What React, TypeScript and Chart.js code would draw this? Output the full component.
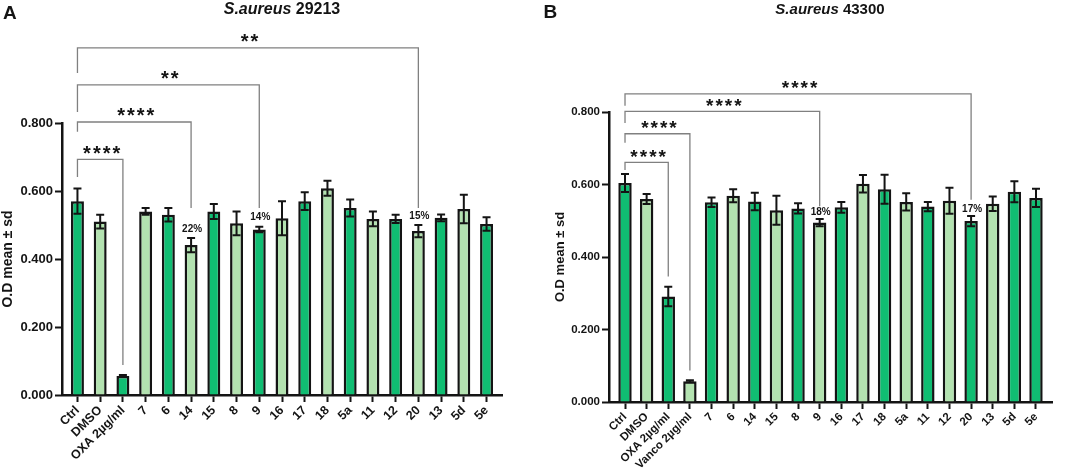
import React, { useEffect, useRef } from 'react';
import { Chart, registerables } from 'chart.js';

Chart.register(...registerables);

const FONT = '"Liberation Sans", Arial, Helvetica, sans-serif';

// ---------- Panel A data ----------
const leftCategories = ['Ctrl', 'DMSO', 'OXA 2µg/ml', '7', '6', '14', '15', '8', '9', '16', '17', '18', '5a', '11', '12', '20', '13', '5d', '5e'];
const leftMeans = [0.570, 0.510, 0.056, 0.540, 0.530, 0.441, 0.540, 0.505, 0.487, 0.520, 0.570, 0.608, 0.550, 0.518, 0.518, 0.482, 0.521, 0.547, 0.503];
const leftSd = [0.037, 0.020, 0.003, 0.010, 0.020, 0.021, 0.022, 0.035, 0.008, 0.050, 0.026, 0.022, 0.025, 0.022, 0.012, 0.018, 0.010, 0.042, 0.020];
// significance brackets: from/to category index, level values in data units
const leftBrackets = [
  { from: 0, to: 2, level: 0.693, leftEnd: 0.641, rightEnd: 0.088, label: '****' },
  { from: 0, to: 5, level: 0.803, leftEnd: 0.774, rightEnd: 0.550, label: '****' },
  { from: 0, to: 8, level: 0.912, leftEnd: 0.832, rightEnd: 0.550, label: '**' },
  { from: 0, to: 15, level: 1.021, leftEnd: 0.947, rightEnd: 0.550, label: '**' },
];
const leftPercents = [
  { index: 5, text: '22%' },
  { index: 8, text: '14%' },
  { index: 15, text: '15%' },
];

// ---------- Panel B data ----------
const rightCategories = ['Ctrl', 'DMSO', 'OXA 2µg/ml', 'Vanco 2µg/ml', '7', '6', '14', '15', '8', '9', '16', '17', '18', '5a', '11', '12', '20', '13', '5d', '5e'];
const rightMeans = [0.604, 0.560, 0.291, 0.057, 0.551, 0.569, 0.553, 0.529, 0.534, 0.495, 0.537, 0.602, 0.587, 0.552, 0.539, 0.555, 0.499, 0.547, 0.580, 0.563];
const rightSd = [0.025, 0.014, 0.027, 0.003, 0.013, 0.018, 0.024, 0.040, 0.014, 0.010, 0.015, 0.024, 0.040, 0.024, 0.013, 0.036, 0.014, 0.020, 0.029, 0.025];
const rightBrackets = [
  { from: 0, to: 2, level: 0.661, leftEnd: 0.640, rightEnd: 0.346, label: '****' },
  { from: 0, to: 3, level: 0.740, leftEnd: 0.715, rightEnd: 0.087, label: '****' },
  { from: 0, to: 9, level: 0.802, leftEnd: 0.770, rightEnd: 0.540, label: '****' },
  { from: 0, to: 16, level: 0.850, leftEnd: 0.817, rightEnd: 0.558, label: '****' },
];
const rightPercents = [
  { index: 9, text: '18%' },
  { index: 16, text: '17%' },
];

const yTickValues = [0, 0.2, 0.4, 0.6, 0.8];

// ---------- styles ----------
const DARK = '#10bd72';
const LIGHT = '#b3e2b0';
const INK = '#141414';
const LEFT_COLORS = leftCategories.map((_, i) => (i % 2 === 0 ? DARK : LIGHT));
const RIGHT_COLORS = rightCategories.map((_, i) => (i === rightCategories.length - 1 ? DARK : i % 2 === 0 ? DARK : LIGHT));

type Bracket = { from: number; to: number; level: number; leftEnd: number; rightEnd: number; label: string };
type Panel = {
  categories: string[];
  means: number[];
  sd: number[];
  colors: string[];
  brackets: Bracket[];
  percents: { index: number; text: string }[];
  xMin: number;
  xMax: number;
  padTop: number;
  padRight: number;
  yWidth: number;
  xHeight: number;
  barPct: number;
  yTickFont: number;
  xTickFont: number;
  yTitleFont: number;
  yTitlePad: number;
  pctGap: number;
  starFont: number;
};

function annotatePlugin(p: Panel) {
  return {
    id: 'annotate',
    afterDatasetsDraw(chart: any) {
      const ctx = chart.ctx as CanvasRenderingContext2D;
      const xs = chart.scales.x;
      const ys = chart.scales.y;
      ctx.save();
      // error bars
      ctx.strokeStyle = INK;
      ctx.lineWidth = 2;
      p.means.forEach((m, i) => {
        const x = xs.getPixelForValue(i);
        const yt = ys.getPixelForValue(m + p.sd[i]);
        const yb = ys.getPixelForValue(m - p.sd[i]);
        ctx.beginPath();
        ctx.moveTo(x, yt);
        ctx.lineTo(x, yb);
        ctx.moveTo(x - 4, yt);
        ctx.lineTo(x + 4, yt);
        ctx.moveTo(x - 4, yb);
        ctx.lineTo(x + 4, yb);
        ctx.stroke();
      });
      // percent labels
      ctx.fillStyle = INK;
      ctx.font = `bold 10px ${FONT}`;
      ctx.textAlign = 'center';
      ctx.textBaseline = 'bottom';
      p.percents.forEach((q) => {
        const x = xs.getPixelForValue(q.index);
        const yt = ys.getPixelForValue(p.means[q.index] + p.sd[q.index]);
        ctx.fillText(q.text, x + 1, yt - p.pctGap);
      });
      // brackets
      ctx.strokeStyle = '#808080';
      ctx.lineWidth = 1.3;
      p.brackets.forEach((b) => {
        const x1 = xs.getPixelForValue(b.from);
        const x2 = xs.getPixelForValue(b.to);
        const yl = ys.getPixelForValue(b.level);
        ctx.beginPath();
        ctx.moveTo(x1, ys.getPixelForValue(b.leftEnd));
        ctx.lineTo(x1, yl);
        ctx.lineTo(x2, yl);
        ctx.lineTo(x2, ys.getPixelForValue(b.rightEnd));
        ctx.stroke();
        ctx.font = `bold ${p.starFont}px ${FONT}`;
        (ctx as any).letterSpacing = '2px';
        ctx.textAlign = 'center';
        ctx.textBaseline = 'alphabetic';
        ctx.fillStyle = INK;
        ctx.fillText(b.label, (x1 + x2) / 2 + 2.5, yl + 0.5);
        (ctx as any).letterSpacing = '0px';
      });
      ctx.restore();
    },
  };
}

function makeConfig(p: Panel): any {
  return {
    type: 'bar',
    data: {
      datasets: [
        {
          data: p.means.map((v, i) => ({ x: i, y: v })),
          backgroundColor: p.colors,
          borderColor: INK,
          borderWidth: 2.5,
          borderSkipped: 'start',
          barPercentage: p.barPct,
          categoryPercentage: 1,
        },
      ],
    },
    options: {
      responsive: false,
      animation: false,
      layout: { padding: { top: p.padTop, right: p.padRight, left: 0, bottom: 0 } },
      plugins: {
        legend: { display: false },
        tooltip: { enabled: false },
        title: { display: false },
      },
      scales: {
        x: {
          type: 'linear',
          offset: false,
          min: p.xMin,
          max: p.xMax,
          afterBuildTicks: (s: any) => {
            s.ticks = p.categories.map((_, i) => ({ value: i }));
          },
          afterFit: (s: any) => {
            s.height = p.xHeight;
          },
          ticks: {
            autoSkip: false,
            maxRotation: 45,
            minRotation: 45,
            padding: 1,
            color: INK,
            font: { family: FONT, size: p.xTickFont, weight: 'bold' },
            callback: (v: number) => p.categories[Math.round(v)] ?? '',
          },
          grid: { display: true, offset: false, drawOnChartArea: false, drawTicks: true, tickLength: 7, tickWidth: 2, tickColor: INK },
          border: { display: true, color: INK, width: 2.5 },
        },
        y: {
          min: 0,
          max: 0.8,
          afterBuildTicks: (s: any) => {
            s.ticks = yTickValues.map((v) => ({ value: v }));
          },
          afterFit: (s: any) => {
            s.width = p.yWidth;
          },
          ticks: {
            padding: 2,
            color: INK,
            font: { family: FONT, size: p.yTickFont, weight: 'bold' },
            callback: (v: number) => Number(v).toFixed(3),
          },
          grid: { display: true, drawOnChartArea: false, drawTicks: true, tickLength: 7, tickWidth: 2, tickColor: INK },
          border: { display: true, color: INK, width: 2.5 },
          title: {
            display: true,
            text: 'O.D mean ± sd',
            color: INK,
            font: { family: FONT, size: p.yTitleFont, weight: 'bold' },
            padding: { top: p.yTitlePad, bottom: 0 },
          },
        },
      },
    },
    plugins: [annotatePlugin(p)],
  };
}

const leftPanel: Panel = {
  categories: leftCategories,
  means: leftMeans,
  sd: leftSd,
  colors: LEFT_COLORS,
  brackets: leftBrackets,
  percents: leftPercents,
  xMin: -0.68,
  xMax: 18.68,
  padTop: 123,
  padRight: 28,
  yWidth: 62,
  xHeight: 80,
  barPct: 0.57,
  yTickFont: 13,
  xTickFont: 12.5,
  yTitleFont: 14,
  yTitlePad: 0,
  pctGap: 4,
  starFont: 20,
};

const rightPanel: Panel = {
  categories: rightCategories,
  means: rightMeans,
  sd: rightSd,
  colors: RIGHT_COLORS,
  brackets: rightBrackets,
  percents: rightPercents,
  xMin: -0.74,
  xMax: 19.74,
  padTop: 112,
  padRight: 13,
  yWidth: 79,
  xHeight: 73,
  barPct: 0.62,
  yTickFont: 11.5,
  xTickFont: 11.5,
  yTitleFont: 13,
  yTitlePad: 23,
  pctGap: 2,
  starFont: 19,
};

function BarPanel({ panel, left, width }: { panel: Panel; left: number; width: number }) {
  const ref = useRef<HTMLCanvasElement | null>(null);
  useEffect(() => {
    if (!ref.current) return;
    const chart = new Chart(ref.current, makeConfig(panel));
    return () => chart.destroy();
  }, [panel]);
  return (
    <canvas
      ref={ref}
      width={width}
      height={475}
      style={{ position: 'absolute', left, top: 0, width, height: 475 }}
    />
  );
}

export default function App() {
  const base: React.CSSProperties = {
    position: 'absolute',
    fontFamily: FONT,
    fontWeight: 'bold',
    color: INK,
    lineHeight: 1,
    whiteSpace: 'nowrap',
  };
  return (
    <div style={{ position: 'fixed', left: 0, top: 0, width: 1065, height: 475, background: '#fff', overflow: 'hidden' }}>
      <BarPanel panel={leftPanel} left={0} width={530} />
      <BarPanel panel={rightPanel} left={530} width={535} />
      <div style={{ ...base, left: 3, top: 2.5, fontSize: 19 }}>A</div>
      <div style={{ ...base, left: 543.5, top: 1.5, fontSize: 19 }}>B</div>
      <div style={{ ...base, left: 282, top: 1, fontSize: 16, transform: 'translateX(-50%)' }}>
        <span style={{ fontStyle: 'italic' }}>S.aureus</span> 29213
      </div>
      <div style={{ ...base, left: 830, top: 1, fontSize: 15, transform: 'translateX(-50%)' }}>
        <span style={{ fontStyle: 'italic' }}>S.aureus</span> 43300
      </div>
    </div>
  );
}
